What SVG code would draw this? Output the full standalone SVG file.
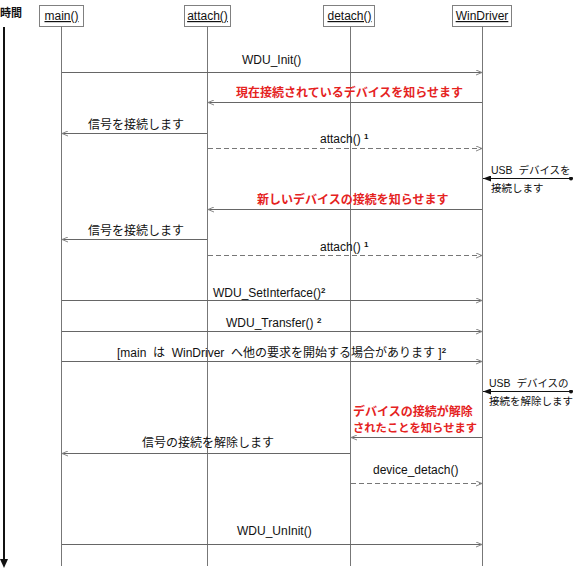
<svg xmlns="http://www.w3.org/2000/svg" width="577" height="576" viewBox="0 0 577 576">
<style>
text{font-family:"Liberation Sans","Noto Sans CJK JP",Arial,sans-serif;font-size:12px;fill:#111}
.red{fill:#e5231f;font-weight:bold}
.hdr{text-decoration:underline;text-anchor:middle}
.side{font-size:10.5px}
.box{fill:#fff;stroke:#808080;stroke-width:1}
.life{stroke:#777;stroke-width:1}
.msg{stroke:#666;stroke-width:1;fill:none}
.dash{stroke:#777;stroke-width:1;stroke-dasharray:5 3;fill:none}
.ext{stroke:#111;stroke-width:1;fill:none}
.sup{font-size:8px;font-weight:bold}
</style>
<defs>
<marker id="open" viewBox="0 0 6 6" refX="6" refY="3" markerWidth="6" markerHeight="6" markerUnits="userSpaceOnUse" orient="auto">
<path d="M0,0.5 L6,3 L0,5.5" fill="none" stroke="#888" stroke-width="1"/>
</marker>
<marker id="fill" viewBox="0 0 8 6" refX="8" refY="3" markerWidth="8" markerHeight="6" markerUnits="userSpaceOnUse" orient="auto">
<path d="M0,0 L8,3 L0,6 Z" fill="#111"/>
</marker>
<marker id="dot" viewBox="0 0 4 4" refX="2" refY="2" markerWidth="4" markerHeight="4" markerUnits="userSpaceOnUse">
<circle cx="2" cy="2" r="2" fill="#111"/>
</marker>
</defs>

<g id="time-axis">
<text x="0" y="17" font-weight="bold" style="font-size:11px">時間</text>
<line x1="4" y1="27" x2="4" y2="560" stroke="#111" stroke-width="2"/>
<path d="M0,559 L8,559 L4,568 Z" fill="#111"/>
</g>

<g id="main">
<rect class="box" x="39.5" y="5.5" width="44" height="21"/>
<text class="hdr" x="61.5" y="20">main()</text>
<line class="life" x1="61.5" y1="26" x2="61.5" y2="566"/>
</g>
<g id="attach">
<rect class="box" x="184.5" y="5.5" width="46" height="21"/>
<text class="hdr" x="207.5" y="20">attach()</text>
<line class="life" x1="207.5" y1="26" x2="207.5" y2="566"/>
</g>
<g id="detach">
<rect class="box" x="323.5" y="5.5" width="51" height="21"/>
<text class="hdr" x="349.5" y="20">detach()</text>
<line class="life" x1="350.5" y1="26" x2="350.5" y2="566"/>
</g>
<g id="windriver">
<rect class="box" x="452.5" y="5.5" width="59" height="21"/>
<text class="hdr" x="482" y="20">WinDriver</text>
<line class="life" x1="482.5" y1="26" x2="482.5" y2="566"/>
</g>

<g id="connectors">
<line class="msg" x1="62" y1="72.5" x2="482" y2="72.5" marker-end="url(#open)"/>
<line class="msg" x1="482" y1="102.5" x2="208" y2="102.5" marker-end="url(#open)"/>
<line class="msg" x1="207" y1="133.5" x2="62" y2="133.5" marker-end="url(#open)"/>
<line class="dash" x1="208" y1="148.5" x2="482" y2="148.5" marker-end="url(#open)"/>
<line class="ext" x1="571" y1="178.5" x2="483" y2="178.5" marker-start="url(#dot)" marker-end="url(#fill)"/>
<line class="msg" x1="482" y1="209.5" x2="208" y2="209.5" marker-end="url(#open)"/>
<line class="msg" x1="207" y1="239.5" x2="62" y2="239.5" marker-end="url(#open)"/>
<line class="dash" x1="208" y1="255.5" x2="482" y2="255.5" marker-end="url(#open)"/>
<line class="msg" x1="62" y1="300.5" x2="482" y2="300.5" marker-end="url(#open)"/>
<line class="msg" x1="62" y1="331.5" x2="482" y2="331.5" marker-end="url(#open)"/>
<line class="msg" x1="62" y1="361.5" x2="482" y2="361.5" marker-end="url(#open)"/>
<line class="ext" x1="571" y1="391.5" x2="483" y2="391.5" marker-start="url(#dot)" marker-end="url(#fill)"/>
<line class="msg" x1="482" y1="437.5" x2="351" y2="437.5" marker-end="url(#open)"/>
<line class="msg" x1="350" y1="453.5" x2="62" y2="453.5" marker-end="url(#open)"/>
<line class="dash" x1="351" y1="483.5" x2="482" y2="483.5" marker-end="url(#open)"/>
<line class="msg" x1="62" y1="544.5" x2="482" y2="544.5" marker-end="url(#open)"/>
</g>

<g id="labels">
<text x="242" y="64">WDU_Init()</text>
<text class="red" x="236" y="97">現在接続されているデバイスを知らせます</text>
<text x="88" y="129">信号を接続します</text>
<text x="320" y="143">attach() <tspan class="sup" dy="-4">1</tspan></text>
<text class="side" x="491" y="174" xml:space="preserve">USB  デバイスを</text>
<text class="side" x="491" y="192">接続します</text>
<text class="red" x="257" y="204">新しいデバイスの接続を知らせます</text>
<text x="88" y="235">信号を接続します</text>
<text x="320" y="251">attach() <tspan class="sup" dy="-4">1</tspan></text>
<text x="213" y="297">WDU_SetInterface()<tspan class="sup" dy="-4">2</tspan></text>
<text x="226" y="327">WDU_Transfer() <tspan class="sup" dy="-4">2</tspan></text>
<text x="117" y="357" xml:space="preserve">[main  は  WinDriver  へ他の要求を開始する場合があります ]<tspan class="sup" dy="-4">2</tspan></text>
<text class="side" x="489" y="387" xml:space="preserve">USB  デバイスの</text>
<text class="side" x="489" y="405">接続を解除します</text>
<text class="red" x="353" y="416">デバイスの接続が解除</text>
<text class="red" x="353" y="432" style="font-size:11.3px">されたことを知らせます</text>
<text x="142" y="447">信号の接続を解除します</text>
<text x="373" y="474">device_detach()</text>
<text x="237" y="535">WDU_UnInit()</text>
</g>
</svg>
